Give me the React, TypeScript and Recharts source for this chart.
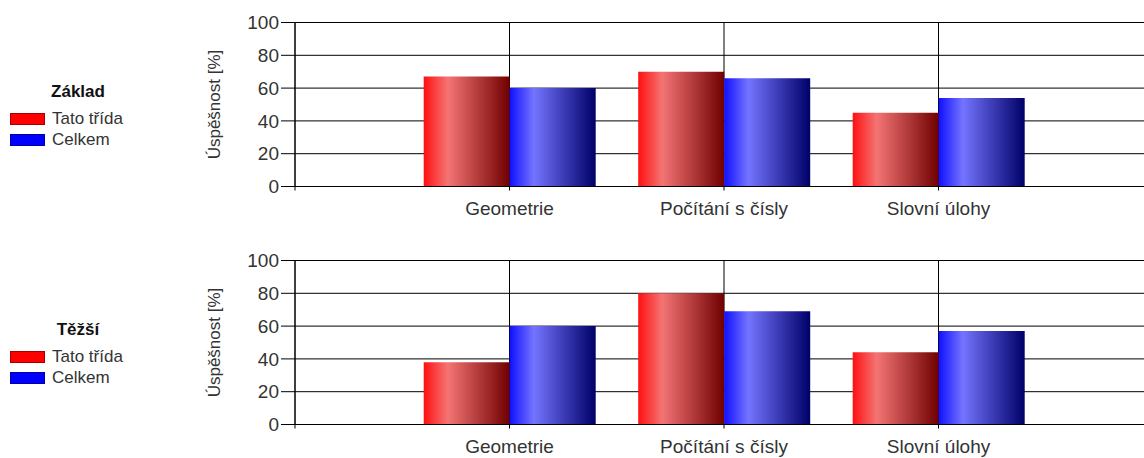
import React from 'react';
import { BarChart, Bar, XAxis, YAxis, CartesianGrid, Legend } from 'recharts';

const categories = ['Geometrie', 'Počítání s čísly', 'Slovní úlohy'];
const seriesNames = ['Tato třída', 'Celkem'];
const zakladTato = [67, 70, 45];
const zakladCelkem = [60, 66, 54];
const tezsiTato = [38, 80, 44];
const tezsiCelkem = [60, 69, 57];
const chartTitles = ['Základ', 'Těžší'];
const yTicks = [0, 20, 40, 60, 80, 100];
const xPositions = [1, 2, 3];
const xTicks = [0, 1, 2, 3, 4];
const yLabel = 'Úspěšnost [%]';
const legendColors = ['#ff0000', '#0000ff'];

const buildRows = (a: number[], b: number[]) =>
  categories.map((c, i) => ({ x: xPositions[i], name: c, tato: a[i], celkem: b[i] }));

const renderLegend = (title: string) => () => (
  <div style={{ width: 156, fontFamily: '"Liberation Sans", Arial, sans-serif' }}>
    <div style={{ textAlign: 'center', fontWeight: 'bold', fontSize: 17, lineHeight: '20px', color: '#111', marginBottom: 6 }}>
      {title}
    </div>
    {seriesNames.map((n, i) => (
      <div key={n} style={{ display: 'flex', alignItems: 'center', height: 21 }}>
        <div style={{ marginLeft: 10, width: 35, height: 12, background: legendColors[i], boxShadow: 'inset 0 0 0 1px rgba(0,0,0,0.35)' }} />
        <span style={{ marginLeft: 7, fontSize: 17, color: '#333' }}>{n}</span>
      </div>
    ))}
  </div>
);

function Panel({ title, rows, top, idx }: { title: string; rows: any[]; top: number; idx: number }) {
  const redId = `redGrad${idx}`;
  const blueId = `blueGrad${idx}`;
  return (
    <div style={{ position: 'absolute', left: 0, top, width: 1153, height: 227 }}>
      <BarChart
        width={1153}
        height={227}
        data={rows}
        margin={{ top: 22.5, right: 0, bottom: 0, left: 0 }}
        barGap={0}
        barCategoryGap="10%"
      >
        <defs>
          <linearGradient id={redId} x1="0" y1="0" x2="1" y2="0">
            <stop offset="0%" stopColor="#ff1010" />
            <stop offset="28%" stopColor="#f47474" />
            <stop offset="100%" stopColor="#700000" />
          </linearGradient>
          <linearGradient id={blueId} x1="0" y1="0" x2="1" y2="0">
            <stop offset="0%" stopColor="#1010ff" />
            <stop offset="28%" stopColor="#7474ff" />
            <stop offset="100%" stopColor="#000068" />
          </linearGradient>
        </defs>
        <CartesianGrid stroke="#000" strokeWidth={1} />
        <XAxis
          type="number"
          dataKey="x"
          domain={[0, 4]}
          ticks={xTicks}
          interval={0}
          tickFormatter={(v: number) => categories[v - 1] ?? ''}
          tickSize={4}
          tickMargin={11}
          height={40.5}
          axisLine={{ stroke: '#000' }}
          tickLine={{ stroke: '#000' }}
          tick={{ fill: '#333', fontSize: 19 }}
        />
        <YAxis
          domain={[0, 100]}
          ticks={yTicks}
          interval={0}
          width={295}
          tickSize={14}
          tickMargin={2}
          axisLine={{ stroke: '#000' }}
          tickLine={{ stroke: '#000' }}
          tick={{ fill: '#333', fontSize: 19 }}
          label={{
            position: 'center',
            content: (p: any) => {
              const vb = p.viewBox || {};
              const cy = (vb.y ?? 0) + (vb.height ?? 0) / 2;
              return (
                <text
                  x={214}
                  y={cy}
                  transform={`rotate(-90 214 ${cy})`}
                  textAnchor="middle"
                  dominantBaseline="central"
                  fontSize={17}
                  fill="#333"
                >
                  {yLabel}
                </text>
              );
            },
          }}
        />
        <Legend
          content={renderLegend(title)}
          layout="vertical"
          align="center"
          verticalAlign="middle"
          wrapperStyle={{ position: 'absolute', left: 0, top: 82, width: 156 }}
        />
        <Bar dataKey="tato" name={seriesNames[0]} fill={`url(#${redId})`} isAnimationActive={false} />
        <Bar dataKey="celkem" name={seriesNames[1]} fill={`url(#${blueId})`} isAnimationActive={false} />
      </BarChart>
    </div>
  );
}

export default function App() {
  return (
    <div
      style={{
        position: 'fixed',
        left: 0,
        top: 0,
        width: 1144,
        height: 458,
        overflow: 'hidden',
        background: '#fff',
        fontFamily: '"Liberation Sans", Arial, sans-serif',
      }}
    >
      <Panel title={chartTitles[0]} rows={buildRows(zakladTato, zakladCelkem)} top={0} idx={0} />
      <Panel title={chartTitles[1]} rows={buildRows(tezsiTato, tezsiCelkem)} top={238} idx={1} />
    </div>
  );
}
